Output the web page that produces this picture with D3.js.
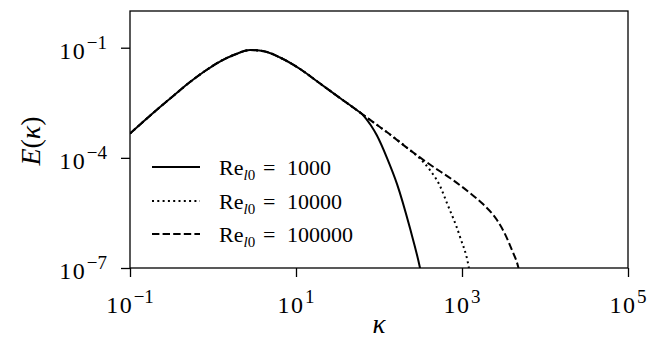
<!DOCTYPE html>
<html>
<head>
<meta charset="utf-8">
<script src="https://cdn.jsdelivr.net/npm/d3@7"></script>
<style>
  html, body { margin: 0; padding: 0; background: #fff; }
  svg { display: block; }
  text { font-family: "Liberation Serif", "Times New Roman", serif; fill: #000; }
</style>
</head>
<body>
<svg id="chart" width="647" height="341"></svg>
<script>
// Energy spectrum E(kappa): the low-wavenumber range is common to all runs
const kappaShared  = [0.1, 0.152, 0.230, 0.348, 0.528, 0.801, 1.21, 1.84, 2.79, 4.23, 6.42, 11.2, 19.5, 33.9, 53.8];
const energyShared = [4.59e-4, 1.07e-3, 2.42e-3, 5.31e-3, 0.0116, 0.0232, 0.0421, 0.0653, 0.0866, 0.0788, 0.0541, 0.0263, 0.0106, 4.26e-3, 2.01e-3];

// Dissipation-range tails for each Reynolds number
const kappaTail1e3  = [62.4, 69.7, 80.1, 93.8, 125, 165, 236, 312, 343];
const energyTail1e3 = [1.56e-3, 1.18e-3, 7.59e-4, 4.18e-4, 9.88e-5, 1.93e-5, 1.22e-6, 1.0e-7, 3.4e-8];

const kappaTail1e4  = [85, 124, 236, 312, 411, 543, 659, 946, 1210, 1270];
const energyTail1e4 = [9.4e-4, 5.04e-4, 1.63e-4, 9.57e-5, 4.65e-5, 1.71e-5, 5.86e-6, 7.08e-7, 1.0e-7, 5e-8];

const kappaTail1e5  = [85, 124, 236, 411, 779, 1250, 1790, 2640, 3300, 4000, 4760, 5000];
const energyTail1e5 = [9.4e-4, 5.04e-4, 1.63e-4, 6.57e-5, 2.48e-5, 1.10e-5, 5.51e-6, 2.02e-6, 8.39e-7, 3.07e-7, 1.06e-7, 6.4e-8];

const seriesReynolds = ["1000", "10000", "100000"];

const xTicks = [1e-1, 1e1, 1e3, 1e5];
const xTickExps = ["\u22121", "1", "3", "5"];
const yTicks = [1e-1, 1e-4, 1e-7];
const yTickExps = ["\u22121", "\u22124", "\u22127"];

function buildSeries(kt, et) {
  const k = kappaShared.concat(kt), e = energyShared.concat(et);
  return k.map((v, i) => ({ k: v, e: e[i] }));
}
const series = [
  { re: seriesReynolds[0], dash: null,      pts: buildSeries(kappaTail1e3, energyTail1e3) },
  { re: seriesReynolds[1], dash: "2,3.3",   pts: buildSeries(kappaTail1e4, energyTail1e4) },
  { re: seriesReynolds[2], dash: "7.4,3.2", pts: buildSeries(kappaTail1e5, energyTail1e5) }
];

const svg = d3.select("#chart");
const plotL = 130, plotR = 628, plotT = 11, plotB = 268;

const x = d3.scaleLog().domain([1e-1, 1e5]).range([plotL, plotR]);
const y = d3.scaleLog().domain([1e-7, 1e0]).range([plotB, plotT]);

svg.append("rect").attr("width", 647).attr("height", 341).attr("fill", "#fff");

svg.append("defs").append("clipPath").attr("id", "plotclip")
  .append("rect").attr("x", plotL).attr("y", plotT).attr("width", plotR - plotL).attr("height", plotB - plotT);

// curves
const line = d3.line().x(d => x(d.k)).y(d => y(d.e)).curve(d3.curveMonotoneX);
const gLines = svg.append("g").attr("clip-path", "url(#plotclip)");
series.forEach(s => {
  gLines.append("path")
    .attr("d", line(s.pts))
    .attr("fill", "none")
    .attr("stroke", "#000")
    .attr("stroke-width", 2)
    .attr("stroke-dasharray", s.dash);
});

// axes ticks
const xAxis = svg.append("g").attr("transform", `translate(0,${plotB})`)
  .call(d3.axisBottom(x).tickValues(xTicks).tickSize(9).tickFormat(""));
const yAxis = svg.append("g").attr("transform", `translate(${plotL},0)`)
  .call(d3.axisLeft(y).tickValues(yTicks).tickSize(9).tickFormat(""));
[xAxis, yAxis].forEach(g => {
  g.select(".domain").remove();
  g.selectAll(".tick line").attr("stroke", "#000").attr("stroke-width", 1.3);
});

// frame
svg.append("rect")
  .attr("x", plotL).attr("y", plotT).attr("width", plotR - plotL).attr("height", plotB - plotT)
  .attr("fill", "none").attr("stroke", "#000").attr("stroke-width", 1.3);

// tick labels as 10^n
function powerLabel(sel, exp) {
  sel.append("tspan").attr("letter-spacing", 1.5).text("10");
  sel.append("tspan").attr("dy", -10).attr("dx", 0.5).attr("font-size", 19).text(exp);
}
xTicks.forEach((t, i) => {
  const tx = svg.append("text").attr("x", x(t)).attr("y", 313)
    .attr("text-anchor", "middle").attr("font-size", 24);
  powerLabel(tx, xTickExps[i]);
});
yTicks.forEach((t, i) => {
  const ty = svg.append("text").attr("x", 107).attr("y", y(t) + 11)
    .attr("text-anchor", "end").attr("font-size", 24);
  powerLabel(ty, yTickExps[i]);
});

// axis labels
svg.append("text").attr("x", (plotL + plotR) / 2).attr("y", 333)
  .attr("text-anchor", "middle").attr("font-size", 27).attr("font-style", "italic").text("\u03BA");

const yl = svg.append("text").attr("transform", "translate(40,141) rotate(-90)")
  .attr("text-anchor", "middle").attr("font-size", 28);
yl.append("tspan").attr("font-style", "italic").text("E");
yl.append("tspan").text("(");
yl.append("tspan").attr("font-style", "italic").text("\u03BA");
yl.append("tspan").text(")");

// legend
const legendRows = [167, 201, 234];
series.forEach((s, i) => {
  const ry = legendRows[i];
  svg.append("line").attr("x1", 152).attr("x2", 200).attr("y1", ry).attr("y2", ry)
    .attr("stroke", "#000").attr("stroke-width", 2).attr("stroke-dasharray", s.dash);
  const t = svg.append("text").attr("y", ry + 8).attr("font-size", 22);
  t.append("tspan").attr("x", 219).text("Re");
  t.append("tspan").attr("dy", 5).attr("font-size", 15).attr("font-style", "italic").text("l");
  t.append("tspan").attr("font-size", 15).text("0");
  t.append("tspan").attr("x", 263).attr("dy", -5).text("=");
  t.append("tspan").attr("x", 287).text(s.re);
});
</script>
</body>
</html>
